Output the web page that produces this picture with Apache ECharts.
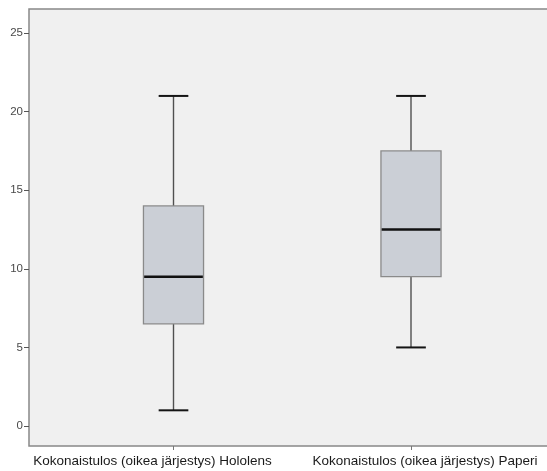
<!DOCTYPE html>
<html>
<head>
<meta charset="utf-8">
<script src="https://cdn.jsdelivr.net/npm/echarts@6/dist/echarts.min.js"></script>
<style>
  html, body { margin: 0; padding: 0; background: #ffffff; }
  #chart { width: 547px; height: 471px; }
</style>
</head>
<body>
<div id="chart"></div>
<script>
// Group names on the category axis
const categories = [
  'Kokonaistulos (oikea järjestys) Hololens',
  'Kokonaistulos (oikea järjestys) Paperi'
];
// Five-number summaries per group
const whiskerLow  = [1, 5];
const quartile1   = [6.5, 9.5];
const medians     = [9.5, 12.5];
const quartile3   = [14, 17.5];
const whiskerHigh = [21, 21];
// Values labelled on the vertical axis
const yTicks = [0, 5, 10, 15, 20, 25];

const boxData = categories.map((c, i) =>
  [i, whiskerLow[i], quartile1[i], medians[i], quartile3[i], whiskerHigh[i]]);

const yMin = -1.27, yMax = 26.53;
const gridTop = 9, gridBottom = 25;
const labelFont = 'Liberation Sans, Arial, sans-serif';

function renderBox(params, api) {
  const idx = api.value(0);
  const band = api.size([1, 0])[0];
  const boxW = band * 0.253;
  const capW = band * 0.125;
  const pLow = api.coord([idx, api.value(1)]);
  const pQ1 = api.coord([idx, api.value(2)]);
  const pMed = api.coord([idx, api.value(3)]);
  const pQ3 = api.coord([idx, api.value(4)]);
  const pHigh = api.coord([idx, api.value(5)]);
  const cx = pMed[0];
  const stemStyle = { stroke: '#505050', lineWidth: 1.4 };
  const capStyle = { stroke: '#141414', lineWidth: 2 };
  return {
    type: 'group',
    children: [
      { type: 'line', shape: { x1: cx, y1: pLow[1], x2: cx, y2: pQ1[1] }, style: stemStyle },
      { type: 'line', shape: { x1: cx, y1: pQ3[1], x2: cx, y2: pHigh[1] }, style: stemStyle },
      { type: 'line', shape: { x1: cx - capW / 2, y1: pLow[1], x2: cx + capW / 2, y2: pLow[1] }, style: capStyle },
      { type: 'line', shape: { x1: cx - capW / 2, y1: pHigh[1], x2: cx + capW / 2, y2: pHigh[1] }, style: capStyle },
      { type: 'rect', shape: { x: cx - boxW / 2, y: pQ3[1], width: boxW, height: pQ1[1] - pQ3[1] },
        style: { fill: '#cbcfd6', stroke: '#8a8a8a', lineWidth: 1.3 } },
      { type: 'line', shape: { x1: cx - boxW / 2 + 0.7, y1: pMed[1], x2: cx + boxW / 2 - 0.7, y2: pMed[1] },
        style: { stroke: '#111111', lineWidth: 2.6 } }
    ]
  };
}

const chart = echarts.init(document.getElementById('chart'), null, { renderer: 'canvas' });
chart.setOption({
  animation: false,
  backgroundColor: '#ffffff',
  // Plot frame: open on the right, running past the canvas edge
  graphic: [
    { type: 'rect', z: -10, silent: true,
      shape: { x: 29, y: gridTop, width: 540, height: 471 - gridTop - gridBottom },
      style: { fill: '#f0f0f0', stroke: '#888888', lineWidth: 1.5 } }
  ],
  grid: [
    { left: 29, right: 0, top: gridTop, bottom: gridBottom },
    { left: 54.75, right: 17.25, top: gridTop, bottom: gridBottom }
  ],
  xAxis: [
    { gridIndex: 0, type: 'value', min: 0, max: 1, show: false },
    { gridIndex: 1, type: 'category', data: categories, boundaryGap: true, position: 'bottom',
      axisLine: { show: false, onZero: false },
      axisTick: { show: true, alignWithLabel: true, length: 4, lineStyle: { color: '#777777', width: 1 } },
      axisLabel: {
        interval: 0, margin: 8, hideOverlap: false,
        fontFamily: labelFont, fontSize: 13.5, color: '#1a1a1a',
        formatter: (v, i) => (i === 0 ? '{a|' + v + '}' : '{b|' + v + '}'),
        rich: {
          a: { padding: [0, 42, 0, 0], fontFamily: labelFont, fontSize: 13.5, color: '#1a1a1a' },
          b: { padding: [0, 0, 0, 28], fontFamily: labelFont, fontSize: 13.5, color: '#1a1a1a' }
        }
      },
      splitLine: { show: false }
    }
  ],
  yAxis: [
    { gridIndex: 0, type: 'value', min: yMin, max: yMax,
      axisLine: { show: false },
      axisTick: { show: true, length: 5, customValues: yTicks, lineStyle: { color: '#555555', width: 1 } },
      axisLabel: { customValues: yTicks, margin: 6, fontFamily: labelFont,
        fontSize: 11.5, color: '#4a4a4a' },
      splitLine: { show: false }
    },
    { gridIndex: 1, type: 'value', min: yMin, max: yMax, show: false }
  ],
  series: [
    { type: 'custom', xAxisIndex: 1, yAxisIndex: 1, renderItem: renderBox,
      data: boxData, encode: { x: 0, y: [1, 2, 3, 4, 5] } }
  ]
});
</script>
</body>
</html>
